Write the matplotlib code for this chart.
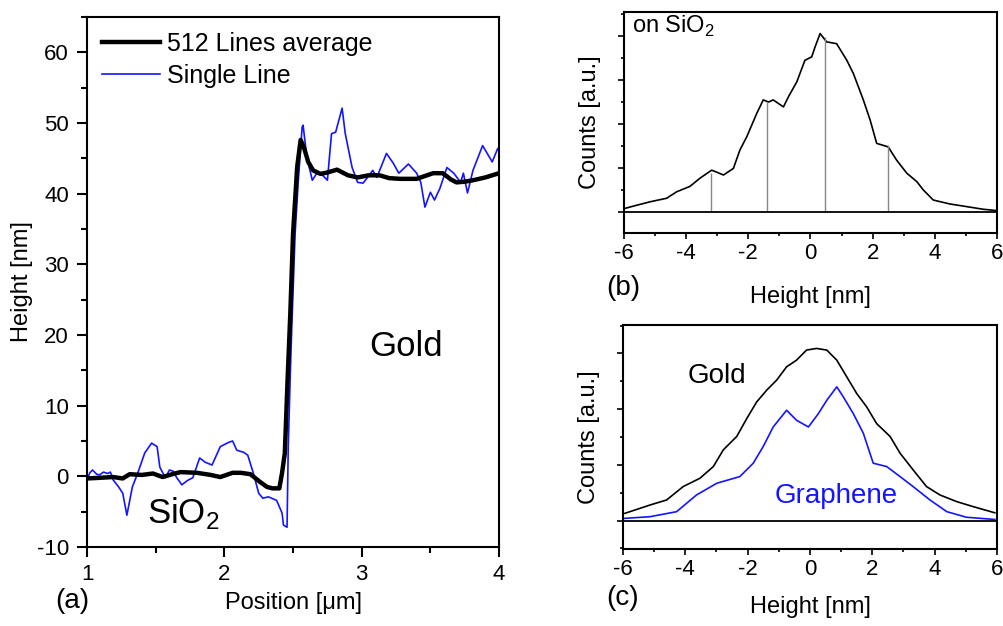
import numpy as np
import matplotlib
matplotlib.use("Agg")
import matplotlib.pyplot as plt
from matplotlib.ticker import MultipleLocator, NullFormatter

plt.rcParams['font.family'] = ['Liberation Sans', 'DejaVu Sans']
plt.rcParams['mathtext.fontset'] = 'custom'
plt.rcParams['mathtext.rm'] = 'Liberation Sans'
plt.rcParams['axes.unicode_minus'] = False

BLUE = '#1414ff'

# ---- panel (a): line profile across the step ----
avg_x = [1.00, 1.10, 1.19, 1.26, 1.31, 1.40, 1.48, 1.55, 1.62, 1.68, 1.80, 1.90,
         1.97, 2.06, 2.12, 2.19, 2.26, 2.31, 2.35, 2.40, 2.42, 2.44, 2.46, 2.48,
         2.50, 2.53, 2.555, 2.58, 2.61, 2.646, 2.70, 2.75, 2.82, 2.90, 2.97, 3.05,
         3.13, 3.20, 3.28, 3.40, 3.46, 3.52, 3.59, 3.65, 3.69, 3.75, 3.81, 3.90,
         4.00]
avg_h = [-0.3, -0.2, -0.1, -0.3, 0.3, 0.2, 0.4, -0.1, 0.3, 0.6, 0.5, 0.2,
         -0.1, 0.5, 0.5, 0.3, -0.8, -1.5, -1.7, -1.7, 0.5, 3.3, 13.6, 23.1,
         34.4, 43.8, 47.6, 46.5, 44.5, 43.3, 42.8, 43.0, 43.4, 42.6, 42.3, 42.6,
         42.6, 42.2, 42.1, 42.1, 42.5, 42.9, 42.9, 42.0, 41.6, 41.7, 41.9, 42.3,
         42.9]

single_x = [1.00, 1.02, 1.04, 1.07, 1.09, 1.12, 1.15, 1.17, 1.19, 1.23, 1.26, 1.29,
            1.33, 1.37, 1.42, 1.47, 1.51, 1.53, 1.57, 1.60, 1.63, 1.65, 1.69, 1.73,
            1.77, 1.82, 1.86, 1.91, 1.97, 2.03, 2.06, 2.09, 2.14, 2.17, 2.21, 2.25,
            2.28, 2.32, 2.38, 2.42, 2.43, 2.456, 2.465, 2.48, 2.49, 2.515, 2.537, 2.566,
            2.573, 2.60, 2.64, 2.67, 2.70, 2.75, 2.78, 2.81, 2.857, 2.88, 2.93, 2.97,
            3.01, 3.05, 3.08, 3.11, 3.18, 3.23, 3.27, 3.34, 3.40, 3.43, 3.46, 3.50,
            3.53, 3.57, 3.62, 3.67, 3.72, 3.74, 3.77, 3.81, 3.88, 3.95, 3.99, 4.00]
single_h = [-0.5, 0.5, 0.9, 0.3, 0.2, 0.6, 0.4, 0.6, -0.5, -1.5, -2.4, -5.5,
            -1.5, 0.5, 3.3, 4.7, 4.2, 1.3, -0.2, 0.9, 0.7, -0.1, -1.2, -0.6,
            -0.2, 2.6, 2.0, 1.6, 4.2, 4.8, 5.0, 3.7, 3.4, 3.0, 0.5, -2.4,
            -3.1, -2.9, -3.4, -5.2, -6.9, -7.2, 4.2, 14.6, 20.7, 34.4, 41.5, 49.4,
            49.7, 45.2, 41.9, 42.8, 42.9, 41.9, 48.5, 48.7, 52.1, 48.5, 43.7, 41.6,
            41.5, 42.5, 43.3, 42.3, 45.7, 44.3, 42.9, 44.2, 42.9, 41.6, 38.1, 40.2,
            39.1, 40.8, 43.7, 42.9, 41.6, 42.9, 40.1, 43.3, 46.8, 44.5, 46.4, 46.0]

# ---- panel (b): height histogram on SiO2 ----
sio2_x = [-5.97, -5.6, -5.16, -4.9, -4.63, -4.30, -3.88, -3.55, -3.18, -3.0, -2.80,
          -2.48, -2.27, -2.05, -1.73, -1.52, -1.35, -1.20, -0.87, -0.71, -0.44, -0.18,
          0.04, 0.15, 0.31, 0.52, 0.84, 1.17, 1.38, 1.70, 1.92, 2.13, 2.50, 2.77,
          3.10, 3.42, 3.63, 3.95, 4.49, 5.03, 5.56, 5.99]
sio2_c = [0.08, 0.15, 0.23, 0.27, 0.31, 0.46, 0.58, 0.77, 0.95, 0.90, 0.84,
          0.99, 1.41, 1.71, 2.24, 2.55, 2.50, 2.55, 2.39, 2.62, 2.96, 3.45,
          3.53, 3.76, 4.06, 3.87, 3.83, 3.45, 3.15, 2.55, 2.09, 1.56, 1.48, 1.18,
          0.88, 0.69, 0.50, 0.27, 0.18, 0.12, 0.06, 0.03]
peak_pos = [-3.2, -1.41, 0.47, 2.50]
peak_cnt = [0.88, 2.50, 3.98, 1.52]

# ---- panel (c): histograms on gold and graphene ----
gold_x = [-5.94, -5.13, -4.60, -4.07, -3.53, -3.10, -2.78, -2.35, -2.03, -1.71, -1.39,
          -1.07, -0.75, -0.43, -0.11, 0.21, 0.54, 0.86, 1.18, 1.50, 1.82, 2.14,
          2.57, 2.89, 3.31, 3.74, 4.17, 4.71, 5.24, 5.93]
gold_c = [0.13, 0.28, 0.37, 0.61, 0.76, 0.97, 1.27, 1.51, 1.83, 2.13, 2.34,
          2.52, 2.76, 2.88, 3.06, 3.09, 3.06, 2.88, 2.58, 2.28, 2.04, 1.74,
          1.51, 1.21, 0.91, 0.61, 0.46, 0.34, 0.25, 0.14]
gr_x = [-5.94, -5.13, -4.28, -3.64, -2.99, -2.25, -1.82, -1.50, -1.18, -0.75, -0.43,
        -0.05, 0.27, 0.54, 0.86, 1.07, 1.39, 1.71, 2.03, 2.46, 2.89, 3.31,
        3.85, 4.39, 5.02, 5.93]
gr_c = [0.04, 0.07, 0.16, 0.46, 0.67, 0.79, 1.03, 1.33, 1.68, 1.98, 1.80,
        1.68, 1.92, 2.16, 2.40, 2.22, 1.92, 1.57, 1.03, 0.97, 0.79, 0.61,
        0.37, 0.16, 0.06, 0.02]

fig = plt.figure(figsize=(10.04, 6.26), dpi=100)
ax_a = fig.add_axes([0.0867, 0.1262, 0.4104, 0.8466])
ax_b = fig.add_axes([0.6215, 0.6278, 0.3715, 0.3530])
ax_c = fig.add_axes([0.6205, 0.1230, 0.3725, 0.3578])

for ax in (ax_a, ax_b, ax_c):
    for s in ax.spines.values():
        s.set_linewidth(1.5)

# (a)
ax_a.plot(avg_x, avg_h, color='black', lw=3.2, label='512 Lines average', zorder=3)
ax_a.plot(single_x, single_h, color=BLUE, lw=1.2, label='Single Line', zorder=2)
ax_a.set_xlim(1, 4)
ax_a.set_ylim(-10, 65)
ax_a.xaxis.set_major_locator(MultipleLocator(1))
ax_a.xaxis.set_minor_locator(MultipleLocator(0.5))
ax_a.yaxis.set_major_locator(MultipleLocator(10))
ax_a.yaxis.set_minor_locator(MultipleLocator(5))
ax_a.tick_params(which='major', direction='out', length=7, width=1.5, labelsize=16, pad=5)
ax_a.tick_params(axis='y', which='major', pad=6)
ax_a.tick_params(which='minor', direction='out', length=4.5, width=1.5)
ax_a.set_xlabel('Position [\u03bcm]', fontsize=17, va='center')
ax_a.set_ylabel('Height [nm]', fontsize=17, va='center')
ax_a.xaxis.set_label_coords(0.5, -0.106)
ax_a.yaxis.set_label_coords(-0.158, 0.5)
ax_a.legend(loc='upper left', frameon=False, fontsize=18, handlelength=2.3,
            handletextpad=0.3, labelspacing=0.3, borderaxespad=0.2)
ax_a.text(3.32, 18.4, 'Gold', fontsize=25, ha='center', va='center')
ax_a.text(1.44, -5.2, r'SiO$_\mathrm{2}$', fontsize=25, ha='left', va='center')
fig.text(0.055, 0.04, '(a)', fontsize=20, ha='left', va='center')

# (b)
ax_b.plot(sio2_x, sio2_c, color='black', lw=1.2)
ax_b.vlines(peak_pos, 0, peak_cnt, color='#888888', lw=1.0)
ax_b.axhline(0, color='black', lw=1.3)
ax_b.set_xlim(-6, 6)
ax_b.set_ylim(-0.48, 4.55)
ax_b.text(-5.75, 4.22, r'on SiO$_\mathrm{2}$', fontsize=17, ha='left', va='center')
ax_b.set_xlabel('Height [nm]', fontsize=17, va='center')
ax_b.set_ylabel('Counts [a.u.]', fontsize=17, va='center')
fig.text(0.604, 0.54, '(b)', fontsize=20, ha='left', va='center')

# (c)
ax_c.plot(gold_x, gold_c, color='black', lw=1.2)
ax_c.plot(gr_x, gr_c, color=BLUE, lw=1.2)
ax_c.axhline(0, color='black', lw=1.3)
ax_c.set_xlim(-6, 6)
ax_c.set_ylim(-0.51, 3.51)
ax_c.text(-2.98, 2.59, 'Gold', fontsize=20, ha='center', va='center')
ax_c.text(0.83, 0.44, 'Graphene', fontsize=20, ha='center', va='center', color=BLUE)
ax_c.set_xlabel('Height [nm]', fontsize=17, va='center')
ax_c.set_ylabel('Counts [a.u.]', fontsize=17, va='center')
fig.text(0.604, 0.045, '(c)', fontsize=20, ha='left', va='center')

for ax in (ax_b, ax_c):
    ax.xaxis.set_major_locator(MultipleLocator(2))
    ax.xaxis.set_minor_locator(MultipleLocator(1))
    ax.yaxis.set_major_locator(MultipleLocator(1))
    ax.yaxis.set_minor_locator(MultipleLocator(0.5))
    ax.yaxis.set_major_formatter(NullFormatter())
    ax.tick_params(which='major', direction='out', length=4, width=1.2, labelsize=16)
    ax.tick_params(which='minor', direction='out', length=2.5, width=1.2)
    ax.yaxis.set_label_coords(-0.092, 0.5)
ax_b.xaxis.set_label_coords(0.5, -64 / 221)
ax_c.xaxis.set_label_coords(0.5, -58 / 224)

fig.savefig('out.png', dpi=100)
